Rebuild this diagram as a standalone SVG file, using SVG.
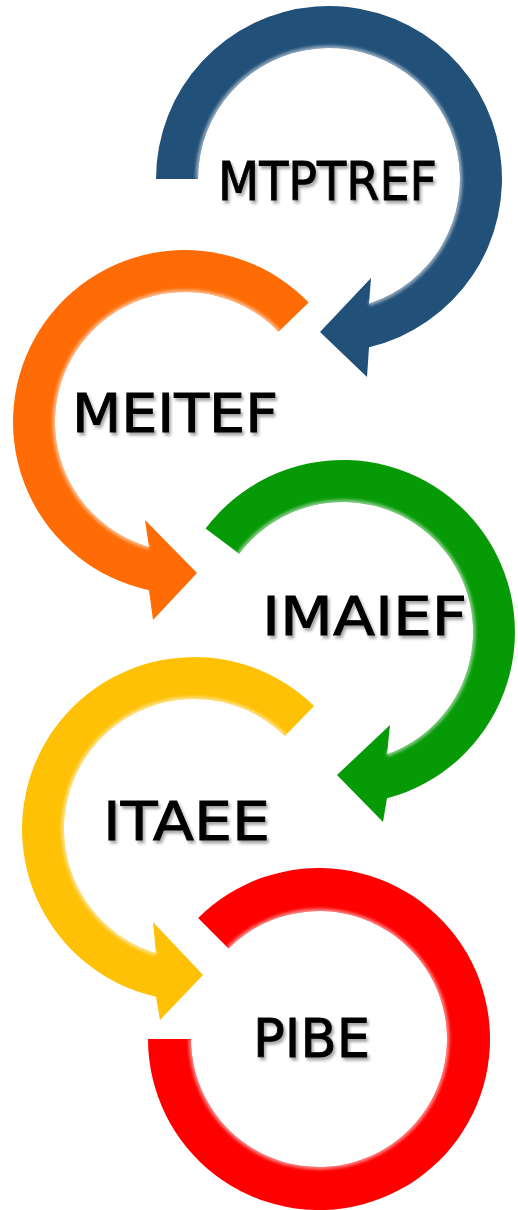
<svg xmlns="http://www.w3.org/2000/svg" xmlns:xlink="http://www.w3.org/1999/xlink" width="518" height="1210" viewBox="0 0 518 1210">
<style>
.lbl{font-family:"DejaVu Sans","Liberation Sans",sans-serif;font-size:54px;fill:#000;stroke:#000;stroke-width:0.9;filter:url(#tshadow)}
.hl{fill:none;stroke:#fff;stroke-width:5;stroke-opacity:0.5;filter:url(#soft)}
.blue{fill:#215079}
.orange{fill:#FF6C06}
.green{fill:#079A07}
.yellow{fill:#FFC105}
.red{fill:#FF0000}
</style>
<defs>
<filter id="tshadow" x="-10%" y="-20%" width="120%" height="150%">
<feDropShadow dx="2" dy="3" stdDeviation="1.5" flood-color="#000" flood-opacity="0.35"/>
</filter>
<filter id="soft" x="-10%" y="-10%" width="120%" height="120%">
<feGaussianBlur stdDeviation="1.5"/>
</filter>
<path id="p-blue" d="M156,179 A173,173 0 1 1 369,347.3 L367,377 L320,332 L371,278 L369,303.7 A131,131 0 1 0 198,179 Z"/>
<path id="p-orange" d="M308.7,302.5 A172,172 0 1 0 149,590.2 L153,620 L197,573 L145,520 L149,546.9 A130,130 0 1 1 278.5,331.7 Z"/>
<path id="p-green" d="M205.6,528.5 A172,172 0 1 1 387,798.3 L383,822 L337,775 L390,725 L387,754.3 A130,130 0 1 0 239.2,553.8 Z"/>
<path id="p-yellow" d="M314.1,705.9 A172,172 0 1 0 156,996.8 L160,1020 L203,975 L153,922 L156,953.3 A130,130 0 1 1 284.8,736 Z"/>
<path id="p-red" d="M198.1,918.1 A171,171 0 1 1 148,1039 L191,1039 A128,128 0 1 0 228.5,948.5 Z"/>
<clipPath id="c-blue"><use xlink:href="#p-blue"/></clipPath>
<clipPath id="c-orange"><use xlink:href="#p-orange"/></clipPath>
<clipPath id="c-green"><use xlink:href="#p-green"/></clipPath>
<clipPath id="c-yellow"><use xlink:href="#p-yellow"/></clipPath>
<clipPath id="c-red"><use xlink:href="#p-red"/></clipPath>
</defs>

<g id="node-mtptref">
<use xlink:href="#p-blue" class="blue"/>
<g clip-path="url(#c-blue)"><path class="hl" d="M369,303.7 A131,131 0 1 0 198,179"/></g>
<text class="lbl" x="218" y="200" textLength="219" lengthAdjust="spacingAndGlyphs">MTPTREF</text>
</g>

<g id="node-meitef">
<use xlink:href="#p-orange" class="orange"/>
<g clip-path="url(#c-orange)"><path class="hl" d="M149,546.9 A130,130 0 1 1 278.5,331.7"/></g>
<text class="lbl" x="72" y="432" textLength="206" lengthAdjust="spacingAndGlyphs">MEITEF</text>
</g>

<g id="node-imaief">
<use xlink:href="#p-green" class="green"/>
<g clip-path="url(#c-green)"><path class="hl" d="M387,754.3 A130,130 0 1 0 239.2,553.8"/></g>
<text class="lbl" x="262" y="635" textLength="205" lengthAdjust="spacingAndGlyphs">IMAIEF</text>
</g>

<g id="node-itaee">
<use xlink:href="#p-yellow" class="yellow"/>
<g clip-path="url(#c-yellow)"><path class="hl" d="M156,953.3 A130,130 0 1 1 284.8,736"/></g>
<text class="lbl" x="103" y="840" textLength="167" lengthAdjust="spacingAndGlyphs">ITAEE</text>
</g>

<g id="node-pibe">
<use xlink:href="#p-red" class="red"/>
<g clip-path="url(#c-red)"><path class="hl" d="M191,1039 A128,128 0 1 0 228.5,948.5"/></g>
<text class="lbl" x="253" y="1057" textLength="117" lengthAdjust="spacingAndGlyphs">PIBE</text>
</g>
</svg>
